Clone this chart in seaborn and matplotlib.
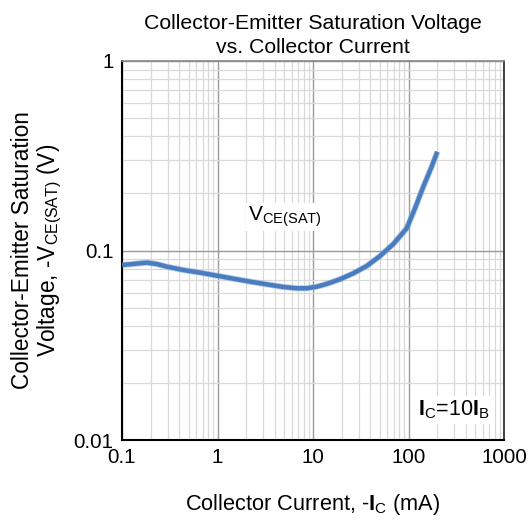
import matplotlib
matplotlib.use("Agg")
import matplotlib.pyplot as plt
import matplotlib.ticker as mticker
import numpy as np
import pandas as pd
import seaborn as sns

# Data
collector_current_ma = [0.1008, 0.1315, 0.1813, 0.2307, 0.2935, 0.4386, 0.6557, 0.980, 1.465,
                        2.189, 3.273, 4.891, 6.745, 8.585, 10.92, 13.9, 19.17, 26.45, 36.48,
                        50.3, 69.4, 95.7, 117.0, 143.0, 174.8, 200.4]
vce_sat_v = [0.0839, 0.0849, 0.0863, 0.0849, 0.0822, 0.0789, 0.0764, 0.0737, 0.0710,
             0.0685, 0.0663, 0.0642, 0.0632, 0.0632, 0.0644, 0.0666, 0.0705, 0.0758, 0.0828,
             0.0935, 0.1082, 0.1309, 0.167, 0.2172, 0.277, 0.332]

x_ticks = [0.1, 1, 10, 100, 1000]
x_tick_labels = ["0.1", "1", "10", "100", "1000"]
y_ticks = [0.01, 0.1, 1]
y_tick_labels = ["0.01", "0.1", "1"]

sns.set_style("white")
plt.rcParams["font.family"] = ["Liberation Sans", "DejaVu Sans"]
plt.rcParams["mathtext.fontset"] = "custom"
plt.rcParams["mathtext.rm"] = "Liberation Sans"
plt.rcParams["mathtext.it"] = "Liberation Sans"
plt.rcParams["mathtext.bf"] = "Liberation Sans:bold"
plt.rcParams["text.color"] = "black"
plt.rcParams["axes.labelcolor"] = "black"

df = pd.DataFrame({"Ic": collector_current_ma, "Vce": vce_sat_v})

fig = plt.figure(figsize=(5.29, 5.25), dpi=100)
ax = fig.add_axes([122 / 529, 1 - 440 / 525, (504 - 122) / 529, (440 - 61) / 525])

sns.lineplot(data=df, x="Ic", y="Vce", ax=ax, color="#8fb0dc", linewidth=4.4,
             solid_capstyle="butt", zorder=3, alpha=0.6)
sns.lineplot(data=df, x="Ic", y="Vce", ax=ax, color="#4a7cc0", linewidth=3.2,
             solid_capstyle="butt", zorder=3)

ax.set_xscale("log")
ax.set_yscale("log")
ax.set_xlim(0.1, 1000)
ax.set_ylim(0.01, 1)

ax.set_xticks(x_ticks)
ax.set_xticklabels(x_tick_labels)
ax.set_yticks(y_ticks)
ax.set_yticklabels(y_tick_labels)
ax.xaxis.set_minor_locator(mticker.LogLocator(base=10, subs=np.arange(2, 10)))
ax.yaxis.set_minor_locator(mticker.LogLocator(base=10, subs=np.arange(2, 10)))
ax.xaxis.set_minor_formatter(mticker.NullFormatter())
ax.yaxis.set_minor_formatter(mticker.NullFormatter())
ax.tick_params(which="both", length=0, labelsize=14.8, colors="black", pad=6)

ax.grid(which="major", color="#9a9a9a", linewidth=1.0, zorder=0)
ax.grid(which="minor", color="#d9d9d9", linewidth=0.9, zorder=0)
ax.set_axisbelow(True)

for side in ["left", "bottom"]:
    ax.spines[side].set_color("black")
    ax.spines[side].set_linewidth(1.5)
ax.spines["top"].set_color("#888888")
ax.spines["top"].set_linewidth(1.2)
ax.spines["right"].set_color("#333333")
ax.spines["right"].set_linewidth(1.3)

ax.set_title("Collector-Emitter Saturation Voltage\nvs. Collector Current",
             fontsize=15.3, pad=6, linespacing=1.3, color="black")
ax.set_xlabel(r"Collector Current, -$\mathbf{I}_\mathrm{C}$ (mA)", fontsize=15.7, labelpad=18)
ax.set_ylabel("Collector-Emitter Saturation\n" + r"Voltage, -V$_\mathrm{CE(SAT)}$ (V)",
              fontsize=16.3, labelpad=7, linespacing=1.1)

ax.text(2.08, 0.150, r"V$_\mathrm{CE(SAT)}$", fontsize=15, ha="left", va="center",
        bbox=dict(facecolor="white", edgecolor="none", pad=1.5), zorder=4)
ax.text(125, 0.0144, r"$\mathbf{I}_\mathrm{C}$=10$\mathbf{I}_\mathrm{B}$", fontsize=15.5,
        ha="left", va="center",
        bbox=dict(facecolor="white", edgecolor="none", pad=2), zorder=4)

fig.savefig("out.png", dpi=100)
